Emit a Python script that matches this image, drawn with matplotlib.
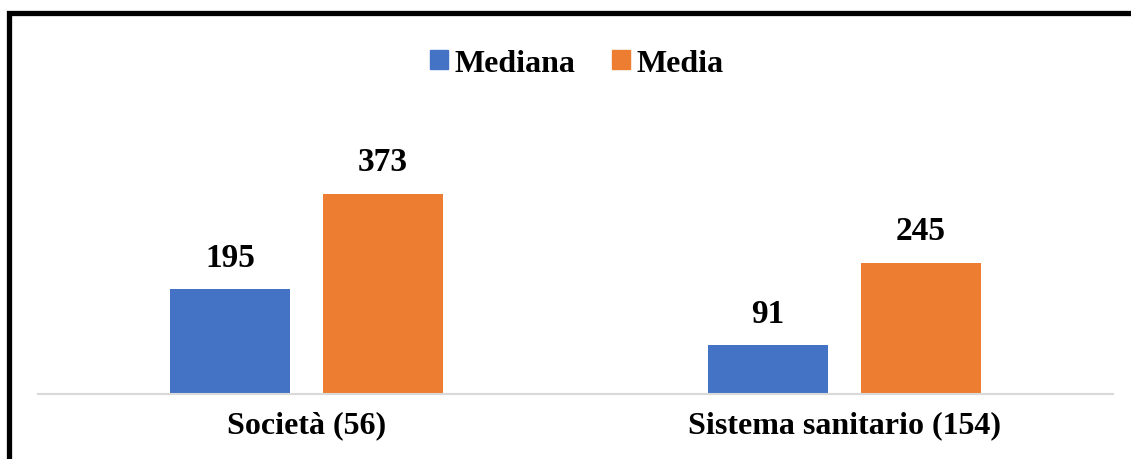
import numpy as np
import matplotlib.pyplot as plt
from matplotlib.patches import Patch, Rectangle

categories = ['Società (56)', 'Sistema sanitario (154)']
series_names = ['Mediana', 'Media']
mediana = [195, 91]
media = [373, 245]

BLUE = '#4472C4'
ORANGE = '#ED7D31'

plt.rcParams['font.family'] = ['Liberation Serif', 'DejaVu Serif']
plt.rcParams['font.weight'] = 'bold'

W, H = 1131, 460
fig = plt.figure(figsize=(W / 100, H / 100), dpi=100)

# plot area in pixel terms: baseline at y=394, x from 38 to 1113
left, right = 38, 1113
base, top = 395, 100
ax = fig.add_axes([left / W, (H - base) / H, (right - left) / W, (base - top) / H])

x = np.arange(len(categories))
bw = 0.223
off = 0.142
b1 = ax.bar(x - off, mediana, bw, color=BLUE, label=series_names[0])
b2 = ax.bar(x + off, media, bw, color=ORANGE, label=series_names[1])

for bars in (b1, b2):
    ax.bar_label(bars, padding=12, fontsize=24, fontweight='bold')

ax.set_xlim(-0.5, 1.5)
ax.set_ylim(0, 550)
ax.set_xticks(x)
ax.set_xticklabels(categories, fontsize=23, fontweight='bold')
ax.tick_params(axis='x', length=0, pad=12)
ax.set_yticks([])
for side in ('top', 'right', 'left'):
    ax.spines[side].set_visible(False)
ax.spines['bottom'].set_color('#D9D9D9')
ax.spines['bottom'].set_linewidth(1.5)

handles = [Patch(color=BLUE, label=series_names[0]),
           Patch(color=ORANGE, label=series_names[1])]
fig.legend(handles=handles, loc='center', bbox_to_anchor=(577 / W, 1 - 64 / H),
           ncol=2, frameon=False, prop={'size': 23, 'weight': 'bold'},
           handlelength=0.55, handleheight=0.55, handletextpad=0.22,
           columnspacing=1.15)

# outer frame, only the top and left edges fall inside the image
fig.patches.append(Rectangle((8.5 / W, -0.1), 1.2, 1 - 13.5 / H + 0.1,
                             transform=fig.transFigure, fill=False,
                             edgecolor='black', linewidth=3.8))

fig.savefig('out.png', dpi=100)
